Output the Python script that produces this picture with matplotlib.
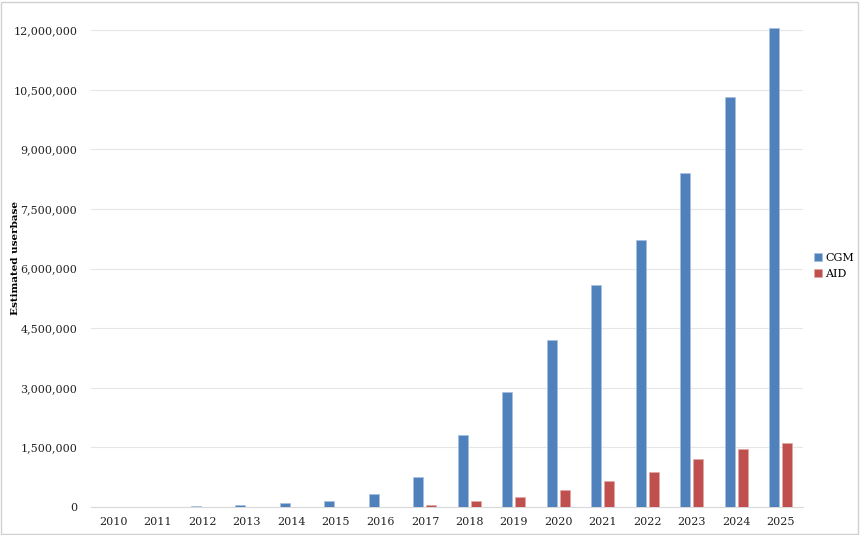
import numpy as np
import matplotlib.pyplot as plt
from matplotlib.patches import Rectangle
from matplotlib.ticker import FuncFormatter

# Estimated userbase
years = ['2010', '2011', '2012', '2013', '2014', '2015', '2016', '2017',
         '2018', '2019', '2020', '2021', '2022', '2023', '2024', '2025']
cgm = [3000, 10000, 20000, 60000, 100000, 145000, 320000, 760000,
       1800000, 2890000, 4200000, 5590000, 6720000, 8410000, 10310000, 12060000]
aid = [0, 0, 0, 0, 0, 0, 0, 50000,
       150000, 240000, 440000, 660000, 890000, 1210000, 1470000, 1610000]

plt.rcParams['font.family'] = ['DejaVu Serif']

fig = plt.figure(figsize=(8.6, 5.35), dpi=100)
ax = fig.add_axes([0.106, 0.0523, 0.828, 0.936])

x = np.arange(len(years))
w = 0.225
ax.bar(x - 0.146, cgm, w, color='#4F81BD', edgecolor='#A7C0DE', linewidth=0.5, label='CGM', zorder=3)
ax.bar(x + 0.146, aid, w, color='#C0504D', edgecolor='#E0A8A6', linewidth=0.5, label='AID', zorder=3)

ax.set_xlim(-0.5, len(years) - 0.5)
ax.set_ylim(0, 12600000)
ax.set_yticks(np.arange(0, 12000001, 1500000))
ax.yaxis.set_major_formatter(FuncFormatter(lambda v, p: '{:,.0f}'.format(v)))
ax.set_xticks(x)
ax.set_xticklabels(years)
ax.tick_params(length=0, labelsize=8, colors='#222222')
ax.tick_params(axis='y', pad=10)
ax.tick_params(axis='x', pad=7)

ax.grid(axis='y', color='#E6E6E6', linewidth=0.8, zorder=0)
for s in ['top', 'right', 'left']:
    ax.spines[s].set_visible(False)
ax.spines['bottom'].set_color('#D9D9D9')

fig.text(0.018, 0.518, 'Estimated userbase', rotation=90, fontsize=7.5,
         fontweight='bold', ha='center', va='center')

fig.legend(loc='center left', bbox_to_anchor=(0.935, 0.503), frameon=False,
           fontsize=8, handlelength=0.7, handleheight=0.7, handletextpad=0.3,
           labelspacing=0.6)

fig.patches.append(Rectangle((0.001, 0.002), 0.997, 0.995, transform=fig.transFigure,
                             fill=False, edgecolor='#D0D0D0', linewidth=1))

fig.savefig('out.png', dpi=100)
